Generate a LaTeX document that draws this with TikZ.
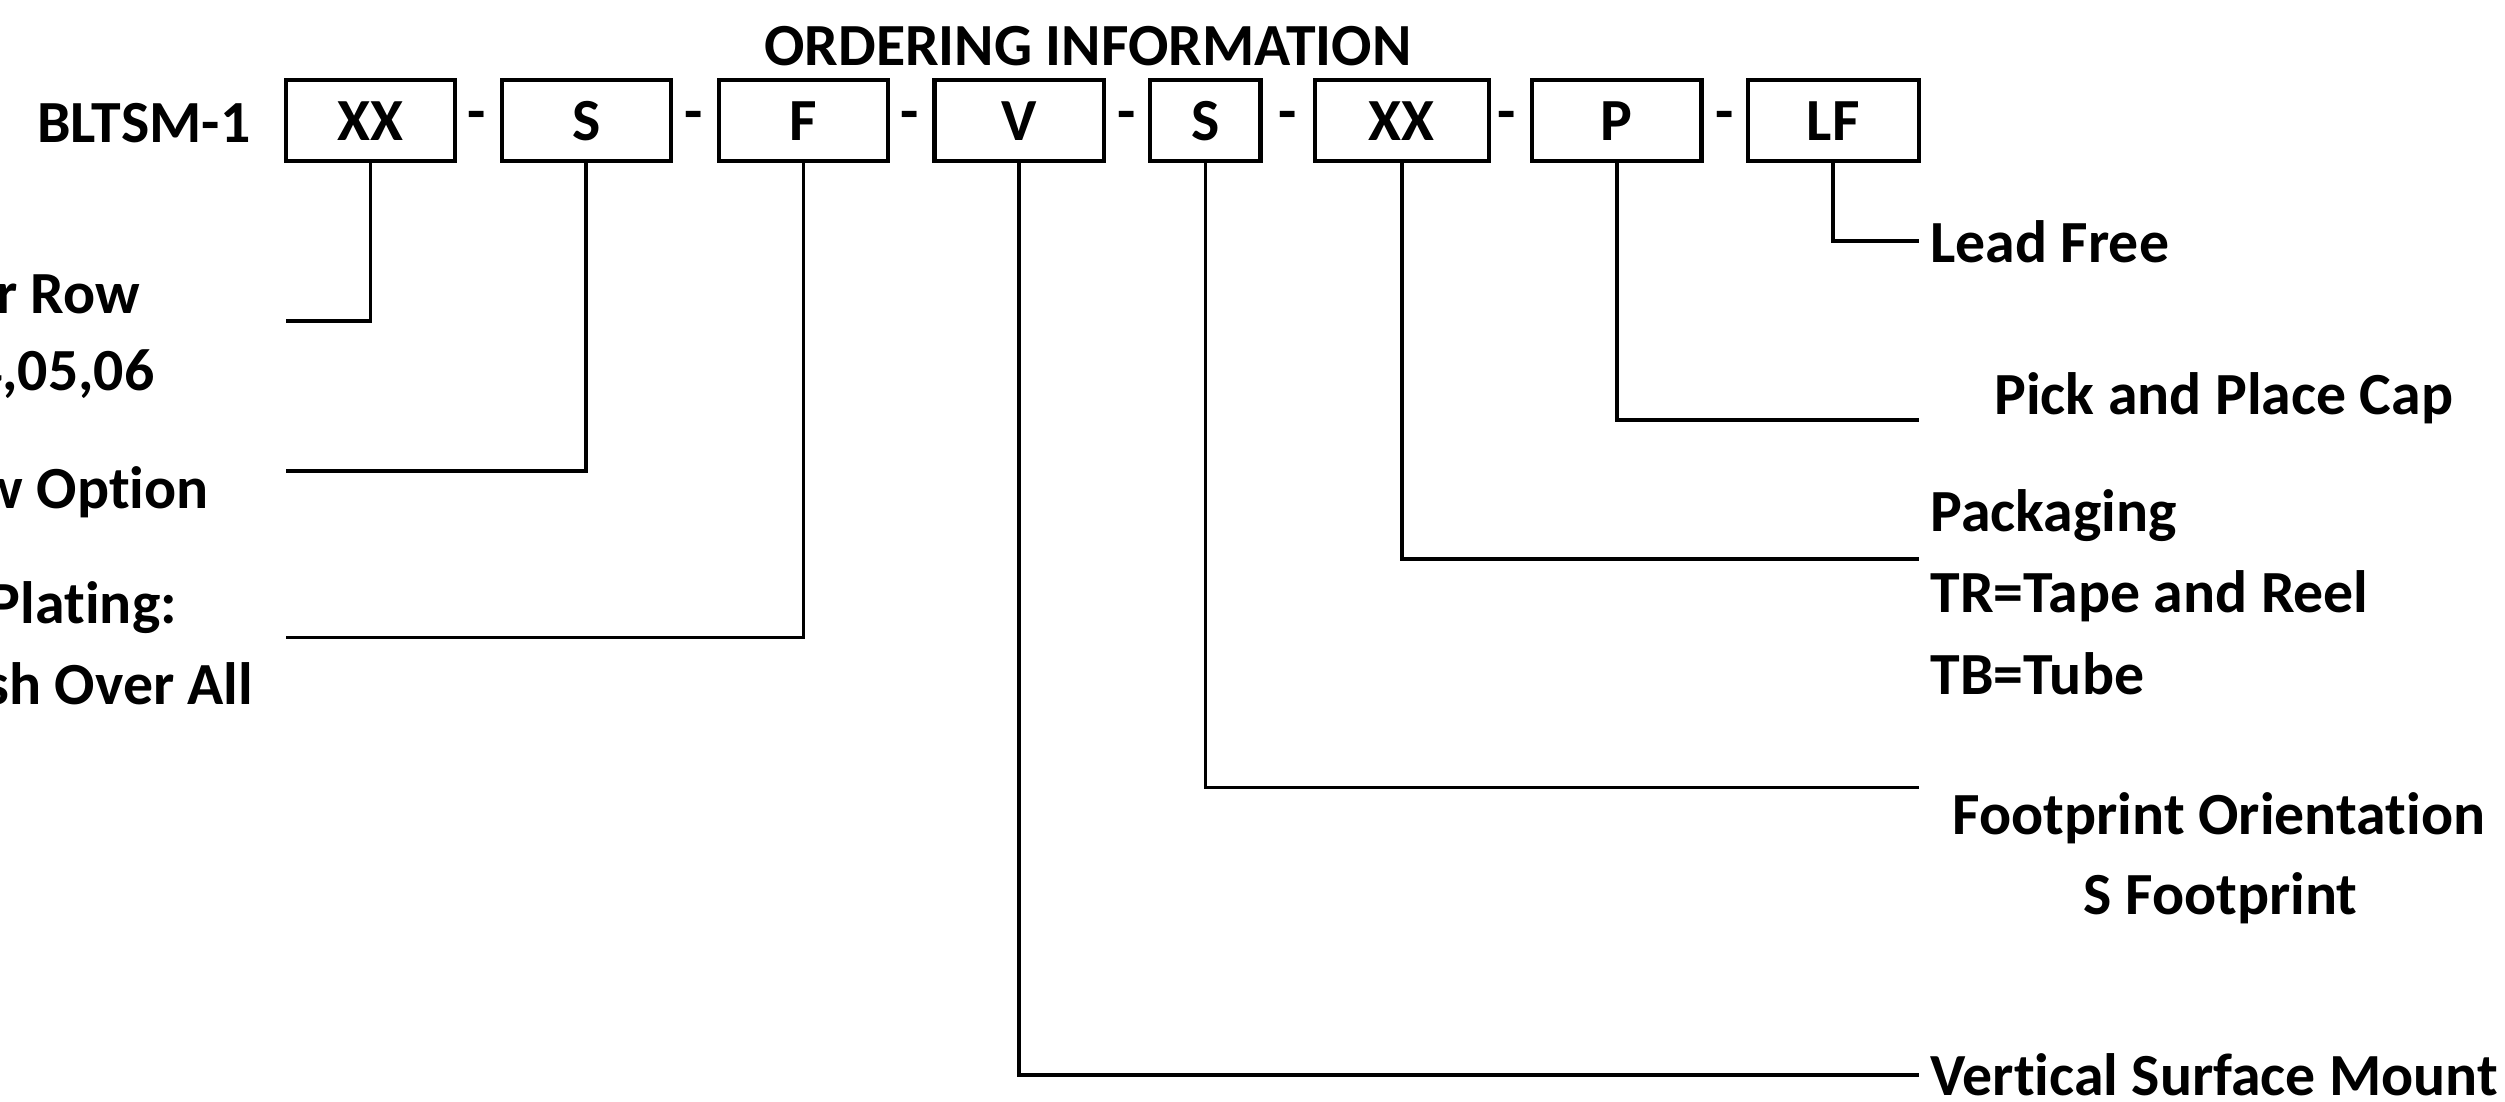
\documentclass[tikz,border=0pt]{standalone}
\usepackage{fontspec}
\setmainfont{Carlito}[Ligatures=NoCommon]
\begin{document}
\begin{tikzpicture}[x=0.02cm,y=-0.02cm,
  every node/.style={font=\fontsize{21.3}{25}\selectfont\bfseries},
  box/.style={draw,line width=1.5pt,minimum height=51*0.02cm,inner sep=0pt},
  dashmark/.style={inner sep=0pt},
  lbl/.style={inner sep=0pt},
  leader/.style={line width=1.3pt}]
\useasboundingbox (0,0) rectangle (1568,689.2);
\node[lbl] (title) at (681,29) {ORDERING INFORMATION};
\node[lbl,anchor=east] (part) at (157,77) {BLTSM-1};
% boxes
\node[box,minimum width=106*0.02cm] (b1) at (232,75.5) {XX};
\node[box,minimum width=106*0.02cm] (b2) at (367,75.5) {S};
\node[box,minimum width=106*0.02cm] (b3) at (503,75.5) {F};
\node[box,minimum width=106*0.02cm] (b4) at (638,75.5) {V};
\node[box,minimum width=69*0.02cm] (b5) at (754.5,75.5) {S};
\node[box,minimum width=109*0.02cm] (b6) at (877.5,75.5) {XX};
\node[box,minimum width=106*0.02cm] (b7) at (1012,75.5) {P};
\node[box,minimum width=107*0.02cm] (b8) at (1147.5,75.5) {LF};
% dashes
\node[dashmark] (d1) at (298.5,76) {-};
\node[dashmark] (d2) at (434,76) {-};
\node[dashmark] (d3) at (569.5,76) {-};
\node[dashmark] (d4) at (705,76) {-};
\node[dashmark] (d5) at (806,76) {-};
\node[dashmark] (d6) at (943,76) {-};
\node[dashmark] (d7) at (1079.5,76) {-};
% left labels (cut off at the page edge, as in the reference)
\node[lbl,anchor=east] (l1a) at (88,184) {r Row};
\node[lbl,anchor=east] (l1b) at (97,234) {4,05,06};
\node[lbl,anchor=east] (l2) at (131,308) {w Option};
\node[lbl,anchor=east] (l3a) at (111,380) {Plating:};
\node[lbl,anchor=east] (l3b) at (159,428) {sh Over All};
\coordinate (c1) at (179,201);
\coordinate (c2) at (179,295);
\coordinate (c3) at (179,399);
% right labels
\node[lbl,anchor=west] (r8) at (1208,151) {Lead Free};
\node[lbl,anchor=west] (r7) at (1248,249) {Pick and Place Cap};
\node[lbl,anchor=west] (r6a) at (1208,323) {Packaging};
\node[lbl,anchor=west] (r6b) at (1208,373) {TR=Tape and Reel};
\node[lbl,anchor=west] (r6c) at (1208,422) {TB=Tube};
\node[lbl,anchor=west] (r5a) at (1222,512) {Footprint Orientation};
\node[lbl] (r5b) at (1390,562) {S Footprint};
\node[lbl,anchor=west] (r4) at (1208,673) {Vertical Surface Mount};
\coordinate (c8) at (1201,151);
\coordinate (c7) at (1201,263);
\coordinate (c6) at (1201,350);
\coordinate (c5) at (1201,493);
\coordinate (c4) at (1201,673);
% leaders
\draw[leader] (b1.south) |- (c1);
\draw[leader] (b2.south) |- (c2);
\draw[leader] (b3.south) |- (c3);
\draw[leader] (b4.south) |- (c4);
\draw[leader] (b5.south) |- (c5);
\draw[leader] (b6.south) |- (c6);
\draw[leader] (b7.south) |- (c7);
\draw[leader] (b8.south) |- (c8);
\end{tikzpicture}
\end{document}
